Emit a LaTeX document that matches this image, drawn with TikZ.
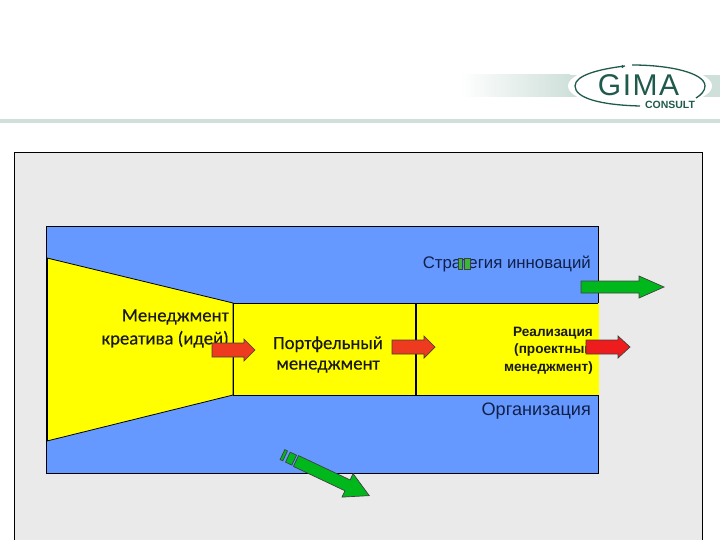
\documentclass[tikz,border=0pt]{standalone}
\usepackage{fontspec}
\setmainfont{Liberation Sans}
\newfontfamily\calib[FakeBold=0.3]{Carlito}
\usetikzlibrary{calc}
\definecolor{panelgray}{HTML}{EAEAEA}
\definecolor{skyblue}{HTML}{6699FF}
\definecolor{brightyellow}{HTML}{FFFF00}
\definecolor{arrowgreen}{HTML}{00B81C}
\definecolor{smallgreen}{HTML}{3CB53C}
\definecolor{arrowred}{HTML}{EE1C1C}
\definecolor{arroworange}{HTML}{EE3A1E}
\definecolor{bandgreen}{HTML}{CFE0DA}
\definecolor{logogreen}{HTML}{1F5A4C}
\definecolor{inkblue}{HTML}{10204A}
\tikzset{
  x=1pt,y=-1pt,
  region/.style={draw=black,line width=0.8pt,fill=brightyellow},
  blockarrow/.style={draw=black!75,line width=0.7pt,line join=miter},
  calibtext/.style={font=\calib\fontsize{18.7}{23}\selectfont,align=center,text=black!90,inner sep=0pt},
  arialtext/.style={font=\fontsize{16.8}{20}\selectfont,text=inkblue,inner sep=0pt},
  smalltext/.style={font=\bfseries\fontsize{13.6}{17.5}\selectfont,align=right,text=black!90,inner sep=0pt},
}
% #1 tail x, #2 y, #3 tip x, #4 head base x, #5 half shaft, #6 half head, #7 fill
\newcommand{\hblock}[7]{\path[blockarrow,fill=#7] (#1,#2-#5) -- (#4,#2-#5) -- (#4,#2-#6) -- (#3,#2) -- (#4,#2+#6) -- (#4,#2+#5) -- (#1,#2+#5) -- cycle;}
\begin{document}
\begin{tikzpicture}
\useasboundingbox (0,0) rectangle (720,540);
% header
\shade[left color=white,right color=bandgreen] (460,75) rectangle (570,97);
\fill[bandgreen] (570,75) rectangle (720,97);
\fill[white] (640,86) ellipse (72 and 22);
\fill[bandgreen] (0,119.5) rectangle (720,123);
% logo
\draw[logogreen,line width=1.3pt] (640,106) .. controls (600,105) and (575,98) .. (575,86) .. controls (575,75) and (600,69) .. (625,66);
\draw[logogreen,line width=1.3pt] (632,65) .. controls (670,65) and (705,73) .. (705,86) .. controls (705,91) and (701,95) .. (696,98);
\node[font=\fontsize{30}{30}\selectfont,text=logogreen,inner sep=0pt] (gima) at (638.5,85) {\addfontfeature{LetterSpace=5}GIMA};
\fill[logogreen] (622.5,66.5) circle (1.6);
\node[font=\bfseries\fontsize{10.5}{11}\selectfont,text=logogreen,inner sep=0pt] (consult) at (670,105) {CONSULT};
% panel
\fill[panelgray] (14,152) rectangle (702,540);
\draw[black,line width=0.8pt] (14,540) -- (14,152) -- (702,152) -- (702,540);
% blue field
\draw[line width=0.8pt,fill=skyblue] (46,226) rectangle (598,473);
% yellow regions
\path[region] (47,258) -- (233,303) -- (233,395) -- (47,441) -- cycle;
\draw[black,line width=1.5pt] (47,258) -- (47,441);
\path[region] (233,303) rectangle (415,395);
\fill[brightyellow] (415,303) rectangle (599,395);
\draw[black,line width=0.8pt] (415,303) -- (598,303) (415,395) -- (598,395);
\draw[black,line width=1.3pt] (416,303) -- (416,395);
% labels
\node[calibtext,align=right,anchor=east] (creative) at (229,328.5) {Менеджмент\\креатива (идей)};
\node[calibtext,font=\calib\fontsize{18.7}{20.5}\selectfont] (portfolio) at (328,354.5) {Портфельный\\менеджмент};
\node[smalltext,anchor=east] (realize) at (593,350.5) {Реализация\\(проектный\\менеджмент)};
\node[arialtext,anchor=east] (strategy) at (591,264) {Стратегия инноваций};
\node[arialtext,anchor=east,font=\fontsize{18.1}{20}\selectfont] (org) at (591,411) {Организация};
% arrows
\hblock{212}{350}{255}{244}{7}{11}{arroworange}
\hblock{392}{347}{435}{424}{7}{11}{arroworange}
\hblock{586}{347}{630}{618}{7}{11}{arrowred}
\hblock{581}{287}{664}{639}{6}{11}{arrowgreen}
\draw[blockarrow,fill=smallgreen] (458,258) rectangle (462,269);
\draw[blockarrow,fill=smallgreen] (464,258) rectangle (470,269);
\begin{scope}[shift={(296,461)},rotate=-25.3]
  \path[blockarrow,fill=arrowgreen] (0,-6) -- (57,-6) -- (57,-13) -- (81,0) -- (57,13) -- (57,6) -- (0,6) -- cycle;
  \draw[blockarrow,fill=arrowgreen] (-9,-5.5) rectangle (-2,5.5);
  \draw[blockarrow,fill=arrowgreen] (-15,-5.5) rectangle (-12,5.5);
\end{scope}
\end{tikzpicture}
\end{document}
